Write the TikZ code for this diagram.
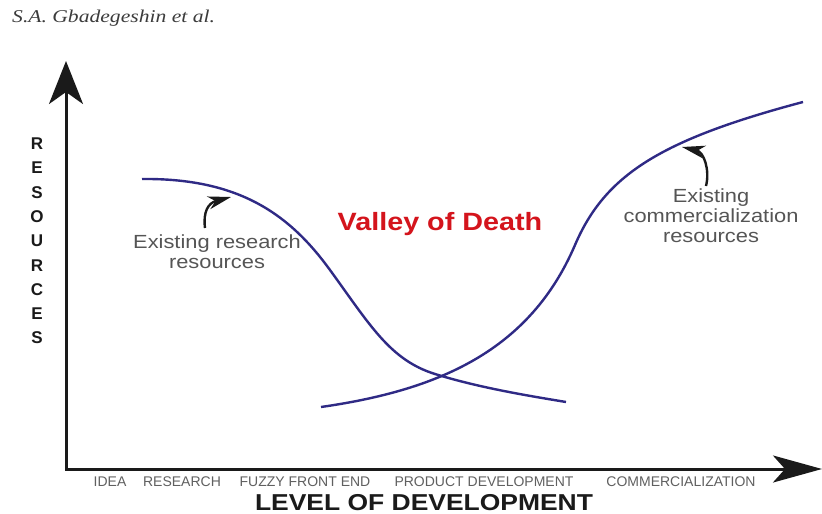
\documentclass[tikz,border=0pt]{standalone}
\usepackage{fontspec}
\setmainfont{Liberation Sans}
\newfontfamily\headfont{Liberation Serif}[FakeStretch=1.2]
\newfontfamily\widefont{Liberation Sans}[FakeStretch=1.15]
\usetikzlibrary{arrows.meta, positioning}
\definecolor{vodCurve}{HTML}{2f2a85}
\definecolor{vodRed}{HTML}{d4141c}
\definecolor{vodInk}{HTML}{1a1a1a}
\definecolor{vodGrey}{HTML}{555555}
\definecolor{vodStage}{HTML}{606060}

\begin{document}
\begin{tikzpicture}[x=1pt, y=-1pt,
    axis/.style={vodInk, line width=3pt, line join=miter,
      {Stealth[length=43pt, width=34pt, inset=12pt]}-{Stealth[length=49pt, width=27pt, inset=12pt]}},
    curve/.style={vodCurve, line width=2.4pt},
    hint/.style={vodInk, line width=2.4pt, -{Stealth[length=23pt, width=13pt, inset=7pt]}},
    note/.style={text=vodGrey, align=center, font=\widefont\fontsize{19}{20}\selectfont},
    stage/.style={text=vodStage, inner sep=0pt, font=\fontsize{14}{14}\selectfont},
    title/.style={text=vodInk, inner sep=0pt, font=\widefont\bfseries\fontsize{23}{24}\selectfont}]
  \path[fill=white, use as bounding box] (0,0) rectangle (822,514);
  \node[anchor=west, inner sep=0pt, text=vodInk!85, font=\headfont\itshape\fontsize{18}{18}\selectfont] (author) at (12,18) {S.A. Gbadegeshin et al.};

  % axes
  \coordinate (origin) at (66,469);
  \coordinate (ytip) at (66,61);
  \coordinate (xtip) at (822,469);
  \draw[axis] (ytip) -- (origin) -- (xtip);
  \node[text=vodInk, align=center, font=\bfseries\fontsize{17}{24.3}\selectfont] (ylabel) at (37,241) {R\\E\\S\\O\\U\\R\\C\\E\\S};
  \node[title, anchor=base] (xlabel) at (424,510) {LEVEL OF DEVELOPMENT};
  \node[stage] (idea) at (110,482) {IDEA};
  \node[stage] (research) at (182,482) {RESEARCH};
  \node[stage] (ffe) at (305,482) {FUZZY FRONT END};
  \node[stage] (product) at (484,482) {PRODUCT DEVELOPMENT};
  \node[stage] (commercial) at (681,482) {COMMERCIALIZATION};

  % the two resource curves
  \coordinate (resStart) at (142,179);
  \coordinate (resSlope) at (330,270);
  \coordinate (cross) at (435,374);
  \coordinate (resEnd) at (566,402);
  \coordinate (comStart) at (321,407);
  \coordinate (comSlope) at (575,245);
  \coordinate (comEnd) at (803,102);
  \draw[curve] (resStart) .. controls (240,178) and (290,215) .. (resSlope)
    .. controls (370,325) and (390,360) .. (cross)
    .. controls (480,388) and (530,396) .. (resEnd);
  \draw[curve] (comStart) .. controls (440,390) and (530,350) .. (comSlope)
    .. controls (605,175) and (660,140) .. (comEnd);

  \node[text=vodRed, font=\widefont\bfseries\fontsize{25}{26}\selectfont] (valley) at (440,224) {Valley of Death};

  \node[note] (resNote) at (217,252) {Existing research\\resources};
  \coordinate (resFoot) at (205,228);
  \coordinate (resTip) at (231,197);
  \draw[hint] (resFoot) .. controls (203,212) and (208,203) .. (resTip);

  \node[note] (comNote) at (711,216) {Existing\\commercialization\\resources};
  \coordinate (comFoot) at (706,186);
  \coordinate (comTip) at (682,147);
  \draw[hint] (comFoot) .. controls (710,170) and (704,152) .. (comTip);
\end{tikzpicture}
\end{document}
